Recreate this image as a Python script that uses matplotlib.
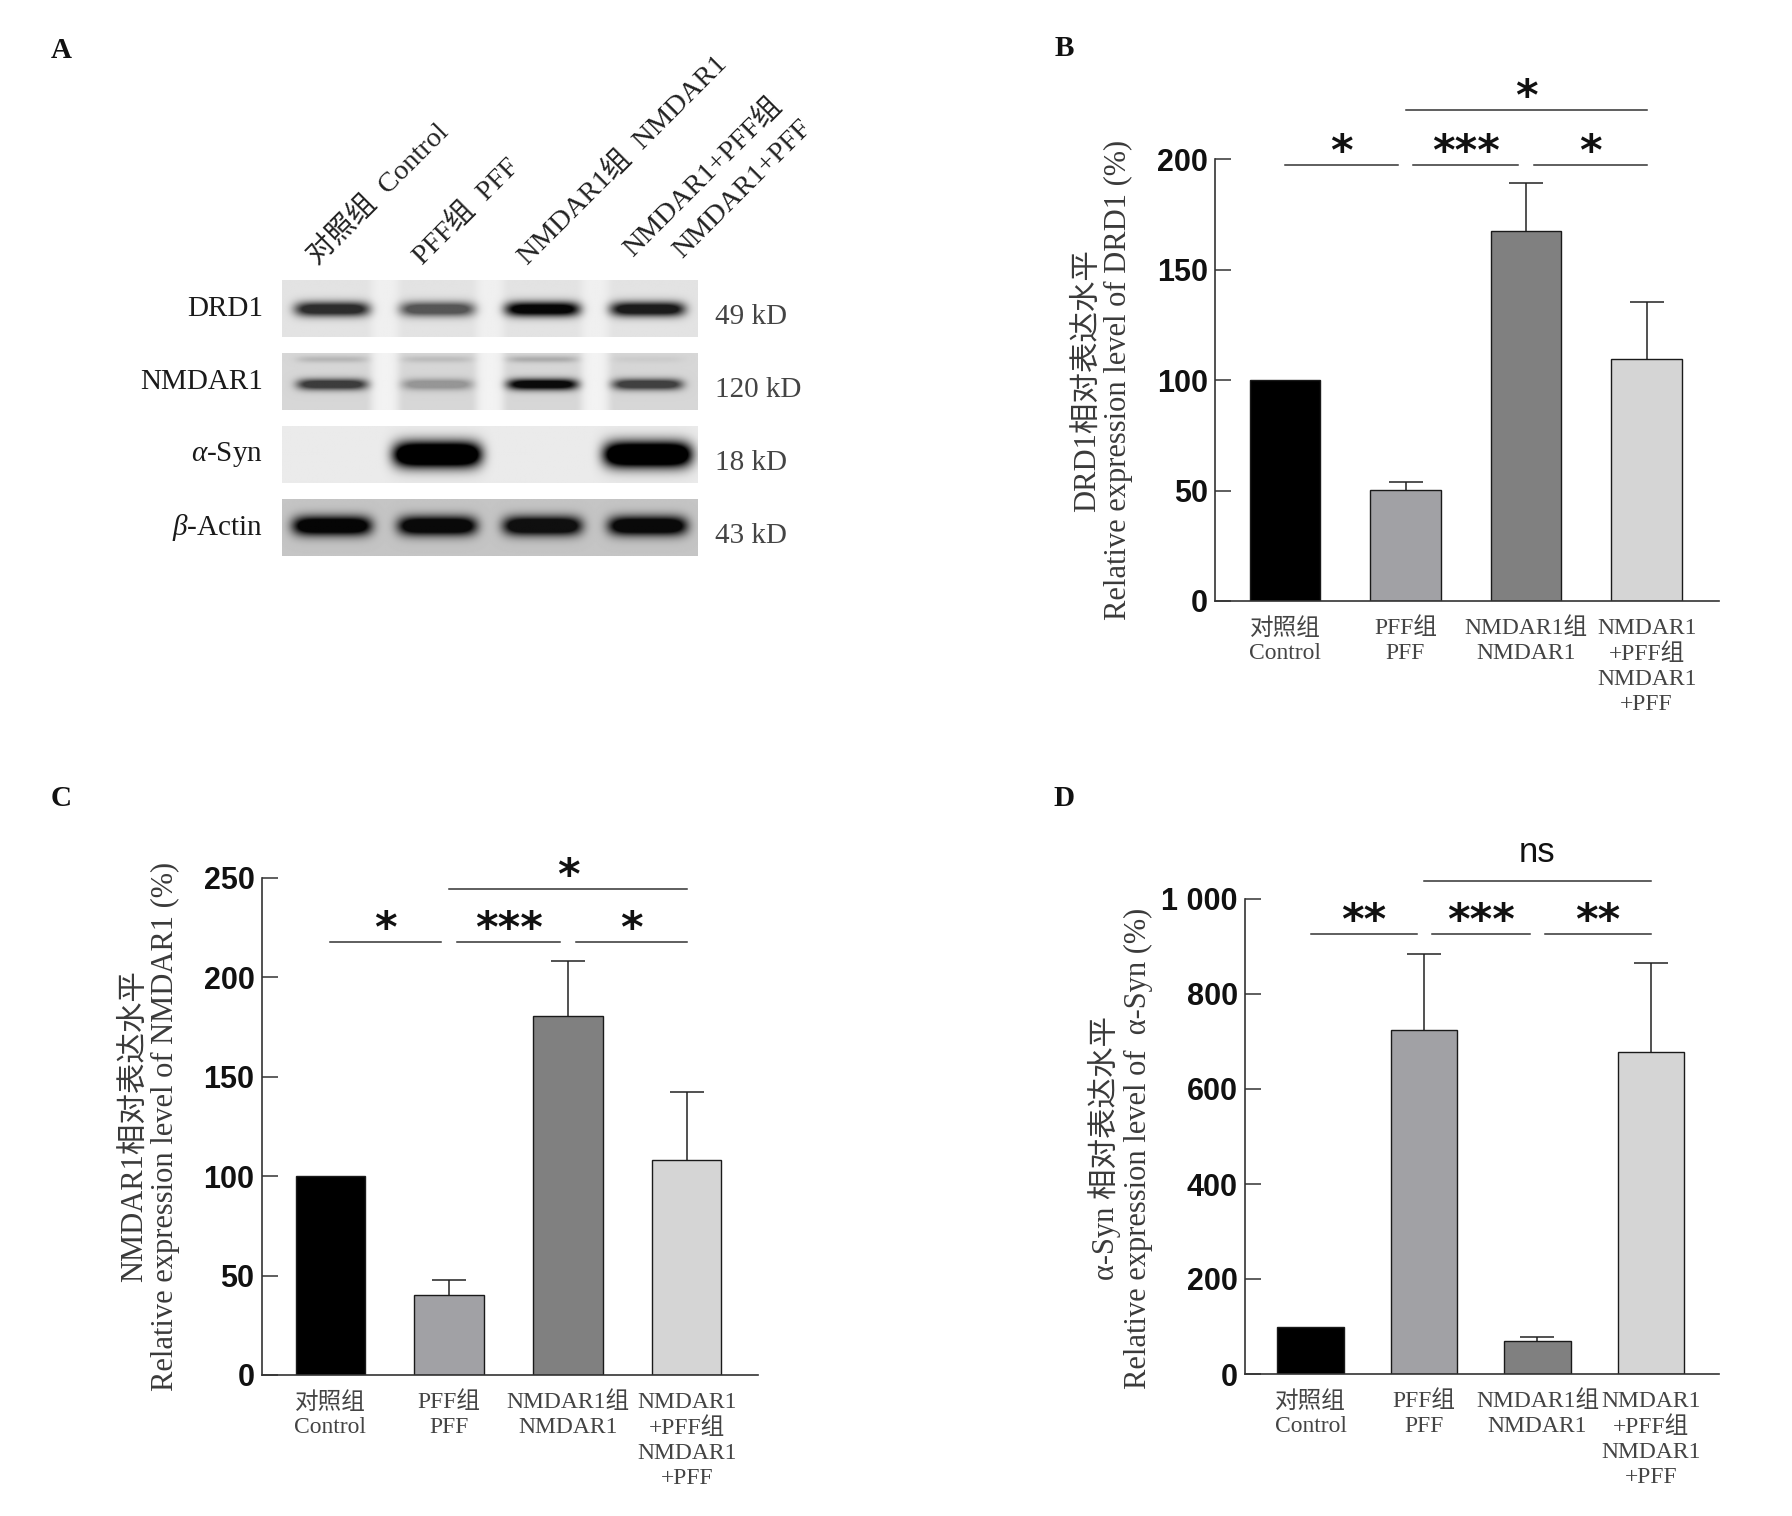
import numpy as np
import matplotlib
matplotlib.use("Agg")
import matplotlib.pyplot as plt

plt.rcParams['mathtext.fontset'] = 'custom'
plt.rcParams['mathtext.rm'] = 'Liberation Serif'
plt.rcParams['mathtext.it'] = 'Liberation Serif:italic'

SERIF = ['Liberation Serif', 'Noto Sans CJK SC']
SANS_B = 'Liberation Sans'

# ---------------- data ----------------
groups_cn = ['对照组', 'PFF组', 'NMDAR1组', 'NMDAR1\n+PFF组']
groups_en = ['Control', 'PFF', 'NMDAR1', 'NMDAR1\n+PFF']

drd1_mean = [100, 50.2, 167.6, 109.6]
drd1_err = [0, 3.7, 21.5, 25.7]
nmdar1_mean = [100, 40.2, 180.4, 108.2]
nmdar1_err = [0, 7.7, 27.8, 34.1]
syn_mean = [100, 723.5, 70.2, 677]
syn_err = [0, 161, 7.6, 189]

drd1_yticks = [0, 50, 100, 150, 200]
nmdar1_yticks = [0, 50, 100, 150, 200, 250]
syn_yticks = [0, 200, 400, 600, 800, 1000]
syn_yticklabels = ['0', '200', '400', '600', '800', '1 000']

comparisons = [(0, 1, 0), (1, 2, 0), (2, 3, 0), (1, 3, 1)]
drd1_sig = ['*', '***', '*', '*']
nmdar1_sig = ['*', '***', '*', '*']
syn_sig = ['**', '***', '**', 'ns']

# western blot band intensities (relative darkness per lane)
blot_rows = ['DRD1', 'NMDAR1', r'$\alpha$-Syn', r'$\beta$-Actin']
blot_kd = ['49 kD', '120 kD', '18 kD', '43 kD']
band_drd1 = [0.80, 0.62, 0.97, 0.88]
band_nmdar1 = [0.72, 0.30, 0.95, 0.70]
band_syn = [0.0, 1.0, 0.0, 1.0]
band_actin = [0.97, 0.95, 0.92, 0.95]
lane_labels = ['对照组  Control', 'PFF组  PFF', 'NMDAR1组  NMDAR1',
               'NMDAR1+PFF组\nNMDAR1+PFF']

bar_colors = ['#000000', '#a1a1a5', '#808080', '#d5d5d5']

# ---------------- figure ----------------
FW, FH = 1792, 1516
fig = plt.figure(figsize=(FW / 100, FH / 100), dpi=100, facecolor='white')


def frect(l, t, r, b):
    return [l / FW, 1 - b / FH, (r - l) / FW, (b - t) / FH]


def fpt(x, y):
    return (x / FW, 1 - y / FH)


# panel letters
for letter, (px, py) in zip('ABCD', [(61, 51), (1064, 49), (61, 798), (1064, 798)]):
    fig.text(*fpt(px, py), letter, fontsize=21, fontweight='bold',
             family='Liberation Serif', ha='center', va='center', color='#111')

# ---------------- panel A: blots ----------------
strip_tops = [280, 353, 426, 499]
strip_h = 57.5
s_left, s_right = 282, 697
lane_frac = np.linspace(0.12, 0.88, 4)


def make_blot(intens, bg, gap_bg, yc, sy, half_w, sat=1.0, upper=None):
    H, W = 60, 420
    x = np.linspace(0, 1, W)
    y = np.linspace(0, 1, H)
    img = np.full((H, W), bg, dtype=float)
    mids = (lane_frac[:-1] + lane_frac[1:]) / 2
    for g in mids:
        img += (gap_bg - bg) * np.exp(-((x - g) / 0.035) ** 4)[None, :]
    for i, a in enumerate(intens):
        px_ = np.exp(-((x - lane_frac[i]) / half_w) ** 6)
        py_ = np.exp(-((y - yc) / sy) ** 2)
        prof = np.clip(sat * np.outer(py_, px_), 0, 1)
        img *= (1 - a * prof)
        if upper is not None:
            pu = np.exp(-((y - 0.12) / 0.06) ** 2)
            img *= (1 - upper[i] * np.outer(pu, px_))
    return img


blots = [
    make_blot(band_drd1, 0.89, 0.94, 0.52, 0.13, 0.09, sat=1.3),
    make_blot(band_nmdar1, 0.84, 0.95, 0.56, 0.10, 0.085, sat=1.3,
              upper=[0.15, 0.12, 0.2, 0.05]),
    make_blot(band_syn, 0.92, 0.92, 0.51, 0.22, 0.105, sat=1.8),
    make_blot(band_actin, 0.77, 0.77, 0.48, 0.17, 0.095, sat=1.5),
]

for k, (img, top) in enumerate(zip(blots, strip_tops)):
    axb = fig.add_axes(frect(s_left, top, s_right, top + strip_h))
    axb.imshow(img, cmap='gray', vmin=0, vmax=1, aspect='auto',
               interpolation='bilinear')
    axb.set_axis_off()
    cy = top + strip_h / 2
    fig.text(*fpt(263, cy), blot_rows[k], fontsize=21, family='Liberation Serif',
             ha='right', va='center', color='#1a1a1a')
    fig.text(*fpt(715, cy + 8), blot_kd[k], fontsize=21, family='Liberation Serif',
             ha='left', va='center', color='#444')

for k, lab in enumerate(lane_labels):
    cx = s_left + (s_right - s_left) * lane_frac[k]
    lines = lab.split('\n')
    if len(lines) == 1:
        fig.text(*fpt(cx - 10, 270), lines[0], fontsize=20.5, family=SERIF,
                 rotation=45, rotation_mode='anchor', ha='left', va='bottom',
                 color='#222')
    else:
        fig.text(*fpt(cx - 10, 262), lines[0], fontsize=20.5, family=SERIF,
                 rotation=45, rotation_mode='anchor', ha='left', va='bottom',
                 color='#222')
        fig.text(*fpt(cx + 39, 263), lines[1], fontsize=20.5, family=SERIF,
                 rotation=45, rotation_mode='anchor', ha='left', va='bottom',
                 color='#222')


# ---------------- bar panels ----------------
def bar_panel(rect, means, errs, ymax, yticks, yticklabels, ylabel, lab_xy,
              sig_labels, sig_levels, ast_off, ns_off=14):
    ax = fig.add_axes(rect)
    ax.set_facecolor('none')
    x = np.arange(len(means))
    ax.bar(x, means, width=0.585, color=bar_colors, edgecolor='#1a1a1a',
           linewidth=1.0, zorder=2)
    for xi, m, e in zip(x, means, errs):
        if e > 0:
            _, caps, _ = ax.errorbar(xi, m, yerr=[[0], [e]], fmt='none',
                                     ecolor='#222', elinewidth=1.1, capsize=12,
                                     capthick=1.1, zorder=1)
            for c in caps:
                if np.allclose(c.get_ydata(), m):
                    c.set_visible(False)
    ax.set_xlim(-0.58, 3.6)
    ax.set_ylim(0, ymax)
    for s in ['top', 'right']:
        ax.spines[s].set_visible(False)
    for s in ['left', 'bottom']:
        ax.spines[s].set_linewidth(1.2)
        ax.spines[s].set_color('#333')
    ax.set_yticks(yticks)
    ax.set_yticklabels(yticklabels, fontsize=22, fontweight='bold',
                       family=SANS_B, color='#111')
    ax.tick_params(axis='y', direction='in', length=11.5, width=1.1,
                   color='#333', pad=5)
    ax.set_xticks(x)
    ax.set_xticklabels([c + '\n' + e for c, e in zip(groups_cn, groups_en)],
                       fontsize=17, family=SERIF, color='#444',
                       linespacing=1.25)
    ax.tick_params(axis='x', length=0, pad=12)
    ax.set_ylabel(ylabel, fontsize=22, family=SERIF, color='#3a3a3a',
                  linespacing=1.1)
    ax.yaxis.label.set_va('center')
    ax.yaxis.label.set_ha('center')
    ax.yaxis.set_label_coords(*lab_xy)
    gap = 0.066
    for (i, j, lvl), txt in zip(comparisons, sig_labels):
        yv = sig_levels[lvl]
        x0 = i + (gap if (lvl == 0 and i in (1, 2)) else 0)
        x1 = j - (gap if (lvl == 0 and j in (1, 2)) else 0)
        ax.plot([x0, x1], [yv, yv], color='#333', lw=1.1, clip_on=False)
        if txt == 'ns':
            ax.annotate(txt, xy=((x0 + x1) / 2, yv), xytext=(0, ns_off),
                        textcoords='offset points', ha='center', va='baseline',
                        fontsize=25, family=SANS_B, annotation_clip=False,
                        color='#111')
        else:
            ax.annotate(txt, xy=((x0 + x1) / 2, yv), xytext=(0, ast_off),
                        textcoords='offset points', ha='center', va='baseline',
                        fontsize=31, fontweight='bold', family='DejaVu Sans',
                        annotation_clip=False, color='#111')
    return ax


bar_panel(frect(1215, 159.3, 1719, 601), drd1_mean, drd1_err, 200,
          drd1_yticks, [str(v) for v in drd1_yticks],
          'DRD1相对表达水平\nRelative expression level of DRD1 (%)',
          (-0.222, 0.5), drd1_sig, [197.5, 222.5], 0)

bar_panel(frect(261.5, 877.5, 758, 1375), nmdar1_mean, nmdar1_err, 250,
          nmdar1_yticks, [str(v) for v in nmdar1_yticks],
          'NMDAR1相对表达水平\nRelative expression level of NMDAR1 (%)',
          (-0.2246, 0.5), nmdar1_sig, [217.5, 244], 0)

bar_panel(frect(1244.8, 899, 1719, 1374), syn_mean, syn_err, 1000,
          syn_yticks, syn_yticklabels,
          'α-Syn 相对表达水平\nRelative expression level of  α-Syn (%)',
          (-0.262, 0.476), syn_sig, [927, 1037], 0)

fig.savefig('out.png', dpi=100, facecolor='white')
